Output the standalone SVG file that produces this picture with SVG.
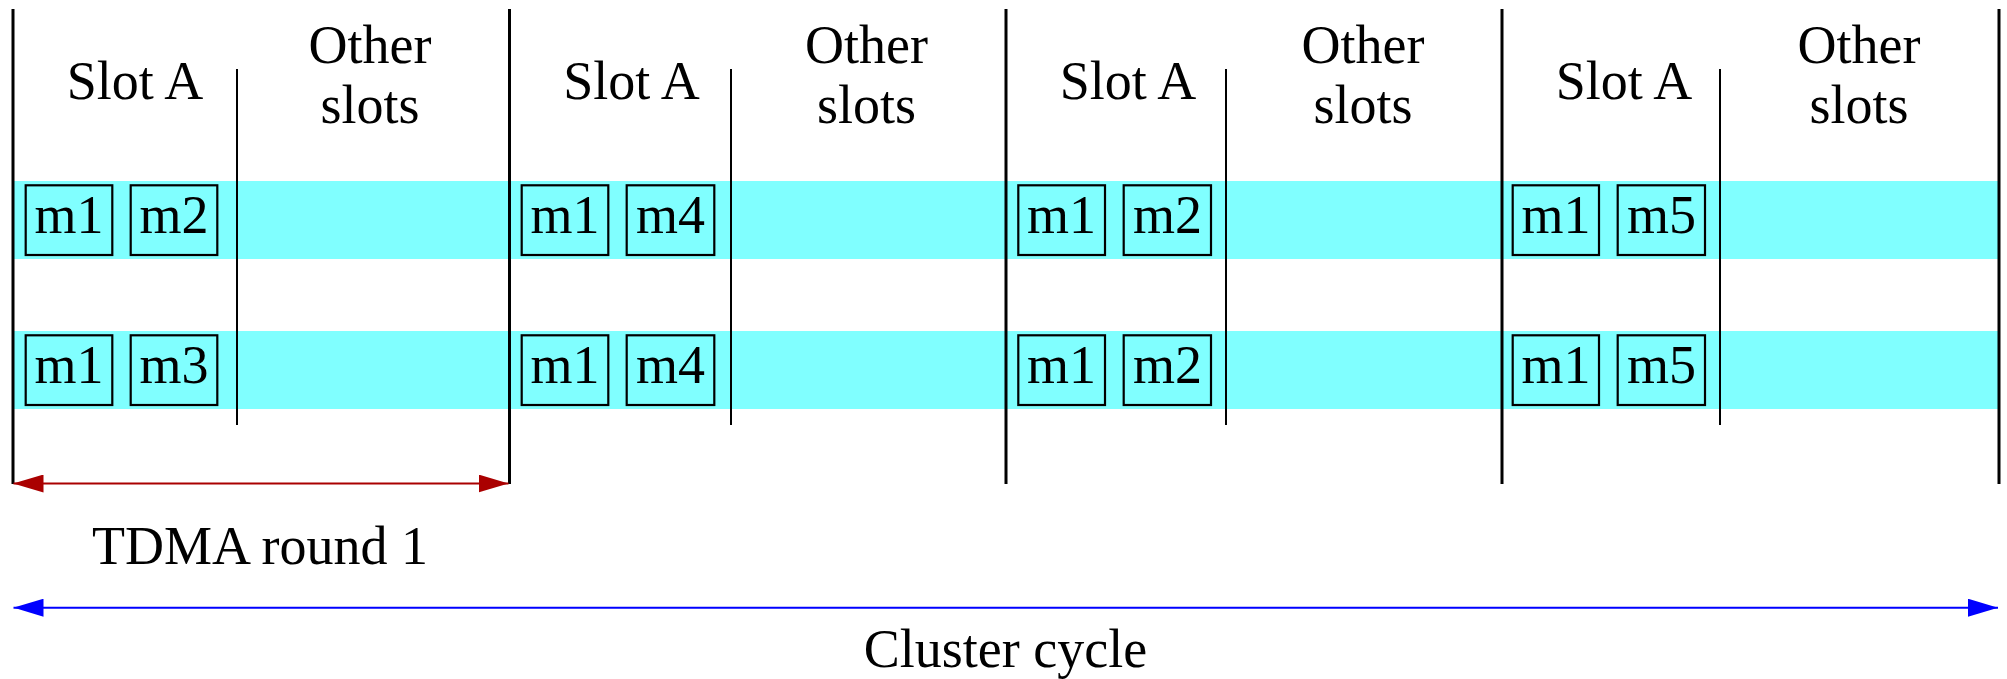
<svg xmlns="http://www.w3.org/2000/svg" width="2007" height="679" viewBox="0 0 2007 679">
  <style>
    text { font-family: "Liberation Serif", "Times New Roman", serif; font-size: 54px; fill: #000; }
    .mid { text-anchor: middle; }
    .band { fill: #80FFFF; }
    .msg { fill: #80FFFF; stroke: #000; stroke-width: 2.2; }
    .round { stroke: #000; stroke-width: 3; fill: none; }
    .slot { stroke: #000; stroke-width: 2; fill: none; }
  </style>
  <defs>
    <marker id="headRed" markerUnits="userSpaceOnUse" markerWidth="30" markerHeight="18" refX="30" refY="9" orient="auto-start-reverse">
      <path d="M0,0 L30,9 L0,18 Z" fill="#AA0000"/>
    </marker>
    <marker id="headBlue" markerUnits="userSpaceOnUse" markerWidth="30" markerHeight="18" refX="30" refY="9" orient="auto-start-reverse">
      <path d="M0,0 L30,9 L0,18 Z" fill="#0000FF"/>
    </marker>
  </defs>

  <rect width="2007" height="679" fill="#fff"/>

  <!-- frame rows -->
  <g id="bands">
    <rect class="band" x="13" y="181" width="1986" height="78"/>
    <rect class="band" x="13" y="331" width="1986" height="78"/>
  </g>

  <!-- TDMA round boundaries -->
  <g id="round-lines">
    <line class="round" x1="13" y1="9" x2="13" y2="484"/>
    <line class="round" x1="509.5" y1="9" x2="509.5" y2="484"/>
    <line class="round" x1="1006" y1="9" x2="1006" y2="484"/>
    <line class="round" x1="1502" y1="9" x2="1502" y2="484"/>
    <line class="round" x1="1999" y1="9" x2="1999" y2="484"/>
  </g>

  <!-- round 1 -->
  <g id="round1">
    <line class="slot" x1="237" y1="69" x2="237" y2="425"/>
    <text class="mid" x="135" y="99">Slot A</text>
    <text class="mid" x="370" y="63">Other</text>
    <text class="mid" x="370" y="123">slots</text>
    <rect class="msg" x="25.7" y="185.3" width="86.6" height="69.7"/>
    <rect class="msg" x="130.7" y="185.3" width="86.6" height="69.7"/>
    <rect class="msg" x="25.7" y="335.3" width="86.6" height="69.7"/>
    <rect class="msg" x="130.7" y="335.3" width="86.6" height="69.7"/>
    <text class="mid" x="69" y="233">m1</text>
    <text class="mid" x="174" y="233">m2</text>
    <text class="mid" x="69" y="383">m1</text>
    <text class="mid" x="174" y="383">m3</text>
  </g>

  <!-- round 2 -->
  <g id="round2">
    <line class="slot" x1="731" y1="69" x2="731" y2="425"/>
    <text class="mid" x="631.5" y="99">Slot A</text>
    <text class="mid" x="866.5" y="63">Other</text>
    <text class="mid" x="866.5" y="123">slots</text>
    <rect class="msg" x="521.7" y="185.3" width="86.6" height="69.7"/>
    <rect class="msg" x="626.7" y="185.3" width="87.6" height="69.7"/>
    <rect class="msg" x="521.7" y="335.3" width="86.6" height="69.7"/>
    <rect class="msg" x="626.7" y="335.3" width="87.6" height="69.7"/>
    <text class="mid" x="565" y="233">m1</text>
    <text class="mid" x="670.5" y="233">m4</text>
    <text class="mid" x="565" y="383">m1</text>
    <text class="mid" x="670.5" y="383">m4</text>
  </g>

  <!-- round 3 -->
  <g id="round3">
    <line class="slot" x1="1226" y1="69" x2="1226" y2="425"/>
    <text class="mid" x="1128" y="99">Slot A</text>
    <text class="mid" x="1363" y="63">Other</text>
    <text class="mid" x="1363" y="123">slots</text>
    <rect class="msg" x="1018.3" y="185.3" width="86.7" height="69.7"/>
    <rect class="msg" x="1123.7" y="185.3" width="87.3" height="69.7"/>
    <rect class="msg" x="1018.3" y="335.3" width="86.7" height="69.7"/>
    <rect class="msg" x="1123.7" y="335.3" width="87.3" height="69.7"/>
    <text class="mid" x="1061.5" y="233">m1</text>
    <text class="mid" x="1167.5" y="233">m2</text>
    <text class="mid" x="1061.5" y="383">m1</text>
    <text class="mid" x="1167.5" y="383">m2</text>
  </g>

  <!-- round 4 -->
  <g id="round4">
    <line class="slot" x1="1720" y1="69" x2="1720" y2="425"/>
    <text class="mid" x="1624" y="99">Slot A</text>
    <text class="mid" x="1859" y="63">Other</text>
    <text class="mid" x="1859" y="123">slots</text>
    <rect class="msg" x="1512.7" y="185.3" width="86.3" height="69.7"/>
    <rect class="msg" x="1617.7" y="185.3" width="87.3" height="69.7"/>
    <rect class="msg" x="1512.7" y="335.3" width="86.3" height="69.7"/>
    <rect class="msg" x="1617.7" y="335.3" width="87.3" height="69.7"/>
    <text class="mid" x="1556" y="233">m1</text>
    <text class="mid" x="1661.5" y="233">m5</text>
    <text class="mid" x="1556" y="383">m1</text>
    <text class="mid" x="1661.5" y="383">m5</text>
  </g>

  <!-- span arrows -->
  <g id="connectors">
    <line x1="13.5" y1="483.5" x2="508.5" y2="483.5" stroke="#AA0000" stroke-width="2" marker-start="url(#headRed)" marker-end="url(#headRed)"/>
    <line x1="13.5" y1="607.7" x2="1998" y2="607.7" stroke="#0000FF" stroke-width="2" marker-start="url(#headBlue)" marker-end="url(#headBlue)"/>
  </g>

  <g id="labels">
    <text class="mid" x="260" y="564">TDMA round 1</text>
    <text class="mid" x="1005.5" y="667">Cluster cycle</text>
  </g>
</svg>
